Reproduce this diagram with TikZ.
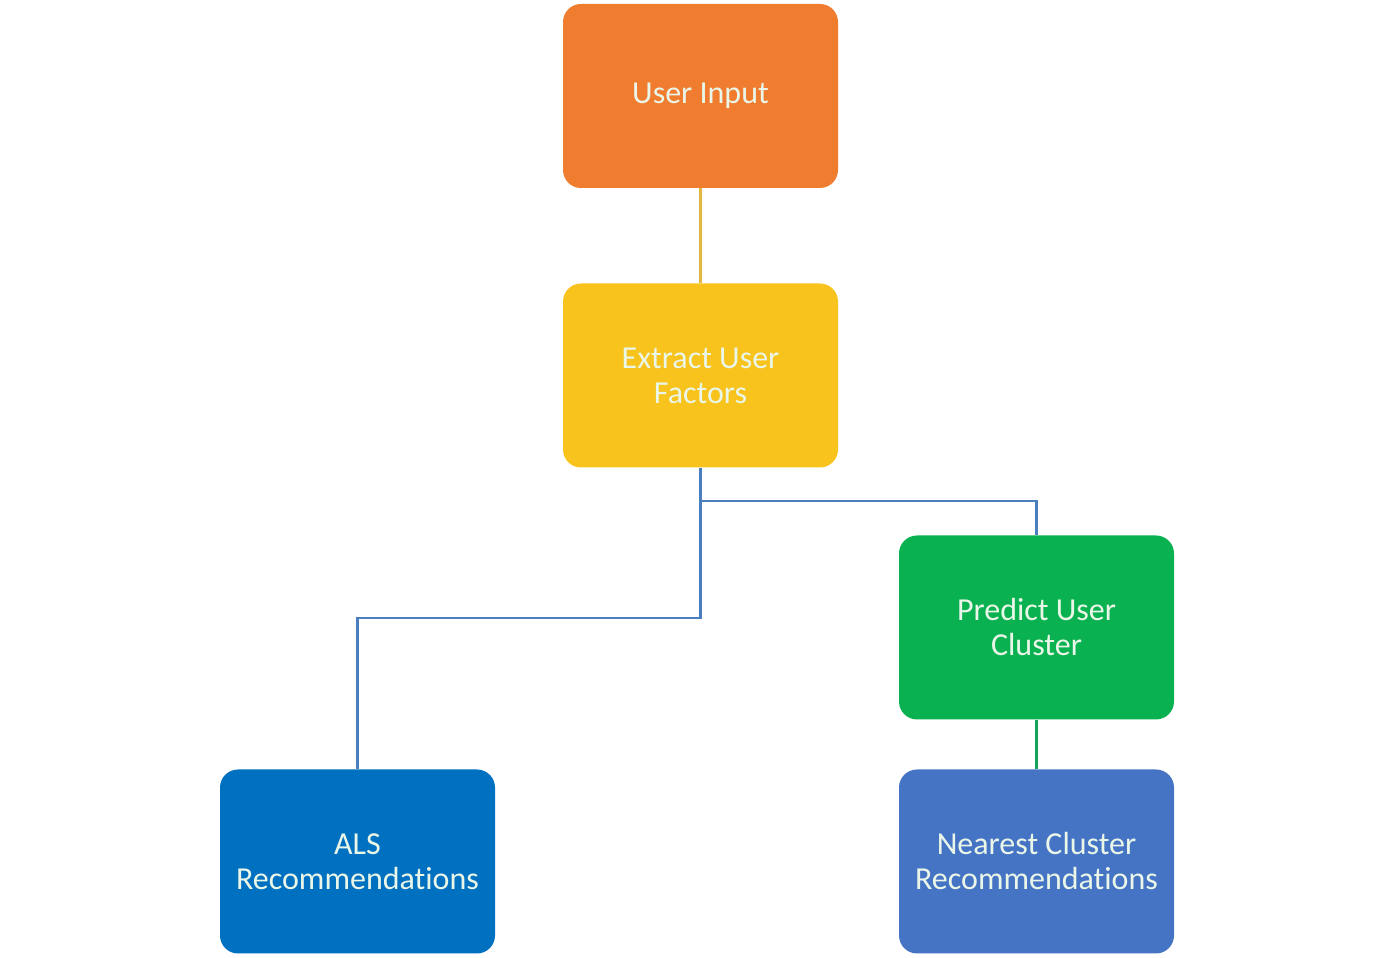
\documentclass[tikz,border=0pt]{standalone}
\usepackage{fontspec}
\setmainfont[Ligatures=NoCommon]{Carlito}
\newcommand{\recword}{Recommendat\kern0pt ions}
\begin{document}
\begin{tikzpicture}[x=1pt,y=1pt,
  box/.style={rounded corners=18pt, minimum width=275pt, minimum height=184pt,
    text=txtc, align=center, font=\fontsize{32}{35}\selectfont, inner sep=0pt, draw=none},
  conn/.style={line width=2.2pt, draw=linec}]
\definecolor{orangec}{HTML}{F07C30}
\definecolor{yellowc}{HTML}{F7C31C}
\definecolor{greenc}{HTML}{09B150}
\definecolor{bluec}{HTML}{0070C0}
\definecolor{periw}{HTML}{4674C5}
\definecolor{txtc}{HTML}{EAF6E8}
\definecolor{linec}{HTML}{4A7EBF}
\definecolor{ylinec}{HTML}{E0B840}
\definecolor{glinec}{HTML}{16A45A}
\useasboundingbox (0,0) rectangle (1400,958);
\node[box, fill=orangec] (ui) at (700.5,862) {User Input};
\node[box, fill=yellowc] (ef) at (700.5,582.5) {Extract User\\Factors};
\node[box, fill=greenc] (pc) at (1036.5,330.5) {Predict User\\Cluster};
\node[box, fill=bluec] (als) at (357.5,96.5) {ALS\\\recword};
\node[box, fill=periw] (nc) at (1036.5,96.5) {Nearest Cluster\\\recword};
\coordinate (j1) at (ef.south |- 0,340);
\coordinate (j2) at (ef.south |- 0,457);
\draw[conn, draw=ylinec] (ui.south) -- (ef.north);
\draw[conn] (ef.south) -- (j1) -| (als.north);
\draw[conn] (ef.south) -- (j2) -| (pc.north);
\draw[conn, draw=glinec] (pc.south) -- (nc.north);
\end{tikzpicture}
\end{document}
